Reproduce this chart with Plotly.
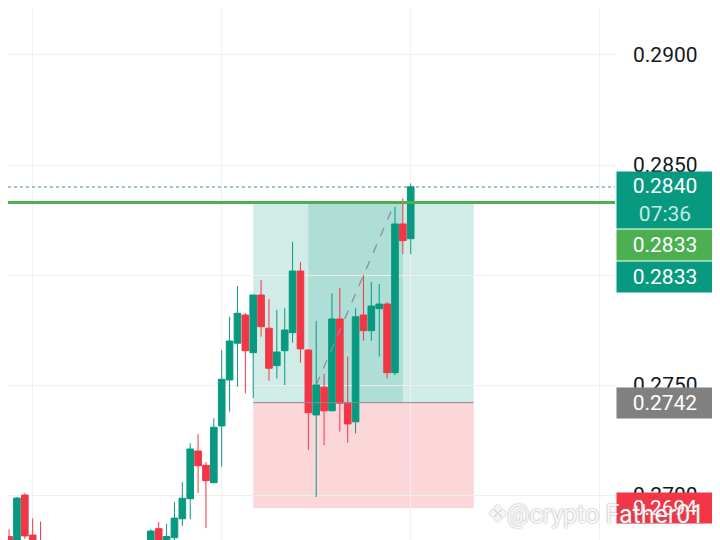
import plotly.graph_objects as go

# candle data (oldest -> newest)
bar_index = list(range(53))
opens = [0.26947, 0.26811, 0.26760, 0.27000, 0.26818, 0.26770,
         0.26720, 0.26670, 0.26700, 0.26640, 0.26590, 0.26620, 0.26660,
         0.26630, 0.26700, 0.26680, 0.26730, 0.26700, 0.26740,
         0.26750, 0.26847, 0.26775, 0.26806, 0.26892, 0.26983, 0.27200,
         0.27135, 0.27056, 0.27314, 0.27523, 0.27690, 0.27818, 0.27647,
         0.27909, 0.27758, 0.27588, 0.27656, 0.27738, 0.28018, 0.27659,
         0.27364, 0.27490, 0.27383, 0.27800, 0.27417, 0.27333, 0.27818,
         0.27747, 0.27847, 0.27868, 0.27556, 0.28232, 0.28165]
highs = [0.27060, 0.26844, 0.26990, 0.27008, 0.26894, 0.26879,
         0.26770, 0.26720, 0.26740, 0.26680, 0.26650, 0.26690, 0.26700,
         0.26720, 0.26750, 0.26740, 0.26770, 0.26760, 0.26780,
         0.26844, 0.26877, 0.26868, 0.26968, 0.27059, 0.27235, 0.27277,
         0.27150, 0.27349, 0.27659, 0.27810, 0.27950, 0.27826, 0.27909,
         0.27977, 0.27890, 0.27841, 0.27849, 0.28151, 0.28059, 0.27662,
         0.27791, 0.27550, 0.27917, 0.27942, 0.27629, 0.27849, 0.28000,
         0.27968, 0.27959, 0.27877, 0.28310, 0.28349, 0.28416]
lows = [0.26710, 0.26740, 0.26720, 0.26800, 0.26700, 0.26660,
        0.26640, 0.26600, 0.26620, 0.26560, 0.26540, 0.26580, 0.26600,
        0.26610, 0.26650, 0.26630, 0.26680, 0.26660, 0.26690,
        0.26720, 0.26730, 0.26740, 0.26780, 0.26859, 0.26890, 0.27010,
        0.26849, 0.27053, 0.27129, 0.27379, 0.27492, 0.27462, 0.27440,
        0.27720, 0.27520, 0.27530, 0.27500, 0.27692, 0.27601, 0.27205,
        0.26991, 0.27227, 0.27380, 0.27288, 0.27238, 0.27280, 0.27701,
        0.27701, 0.27629, 0.27530, 0.27545, 0.28095, 0.28095]
closes = [0.26760, 0.26780, 0.26986, 0.26814, 0.26760, 0.26720,
          0.26670, 0.26700, 0.26640, 0.26590, 0.26620, 0.26660, 0.26630,
          0.26700, 0.26680, 0.26730, 0.26700, 0.26740, 0.26750,
          0.26836, 0.26770, 0.26811, 0.26895, 0.26985, 0.27209, 0.27133,
          0.27065, 0.27308, 0.27526, 0.27700, 0.27826, 0.27656, 0.27909,
          0.27765, 0.27576, 0.27650, 0.27750, 0.28018, 0.27664, 0.27374,
          0.27500, 0.27383, 0.27800, 0.27417, 0.27323, 0.27810, 0.27747,
          0.27859, 0.27868, 0.27556, 0.28232, 0.28156, 0.28401]

# long position tool + drawings
entry_price = 0.2742
target_price = 0.2833
stop_price = 0.2694
hline_price = 0.2833
last_price = 0.2840
countdown = "07:36"
pos_start, pos_end = 32, 60
fill_start, fill_end = 39, 51
path_x = [40, 50]
path_y = [0.2750, 0.2833]

green = "#089981"
red = "#f23645"

fig = go.Figure()
fig.add_trace(go.Candlestick(
    x=bar_index, open=opens, high=highs, low=lows, close=closes,
    increasing=dict(line=dict(color=green, width=1), fillcolor=green),
    decreasing=dict(line=dict(color=red, width=1), fillcolor=red),
    whiskerwidth=0, showlegend=False, hoverinfo="skip"))

fig.add_trace(go.Scatter(x=path_x, y=path_y, mode="lines",
                         line=dict(color="#8a8f99", width=1.3, dash="dash"),
                         showlegend=False, hoverinfo="skip"))

# zones
fig.add_shape(type="rect", x0=pos_start, x1=pos_end, y0=entry_price, y1=target_price,
              fillcolor="rgba(8,153,129,0.19)", line_width=0, layer="below")
fig.add_shape(type="rect", x0=fill_start, x1=fill_end, y0=entry_price, y1=target_price,
              fillcolor="rgba(8,153,129,0.17)", line_width=0, layer="below")
fig.add_shape(type="rect", x0=pos_start, x1=pos_end, y0=stop_price, y1=entry_price,
              fillcolor="rgba(242,54,69,0.2)", line_width=0, layer="below")
fig.add_shape(type="line", x0=pos_start, x1=pos_end, y0=entry_price, y1=entry_price,
              line=dict(color="#8c8c8c", width=1))
fig.add_shape(type="line", xref="paper", x0=0, x1=1, y0=last_price, y1=last_price,
              line=dict(color="#3d8f86", width=1, dash="dot"))
fig.add_shape(type="line", xref="paper", x0=0, x1=1, y0=hline_price, y1=hline_price,
              line=dict(color="#4caf50", width=3))

# price scale labels
def tag(y, text, bg, shift, h=24):
    fig.add_annotation(xref="paper", yref="y", x=1, y=y, xanchor="left", yanchor="middle",
                       xshift=1, yshift=shift, text=text, showarrow=False,
                       bgcolor=bg, width=90, height=h, borderpad=3, align="center",
                       font=dict(family="Roboto", size=21, color="white"))

tag(last_price, f"{last_price:.4f}<br><span style='color:#c4ebe2'>{countdown}</span>",
    green, -13, h=50)
tag(hline_price, f"{hline_price:.4f}", "#4caf50", -43)
tag(target_price, f"{target_price:.4f}", green, -75)
tag(entry_price, f"{entry_price:.4f}", "#808080", 0)
tag(stop_price, f"{stop_price:.4f}", red, 0)

# watermark
fig.add_annotation(xref="paper", yref="paper", x=1.0, y=0.048, xanchor="left", yanchor="middle",
                   xshift=-130, text="❖", showarrow=False,
                   font=dict(family="DejaVu Sans", size=24, color="rgba(255,255,255,0.9)",
                             shadow="0px 0px 2px #9a9a9a"))
fig.add_annotation(xref="paper", yref="paper", x=1.0, y=0.048, xanchor="left", yanchor="middle",
                   xshift=-110, text="@crypto Father01", showarrow=False,
                   font=dict(family="Roboto", size=25, color="rgba(255,255,255,0.92)",
                             shadow="0px 0px 2px #8a8a8a"))

# page body keeps an 8px margin, so the figure is 8px smaller than the window
fig.update_layout(
    width=712, height=532,
    margin=dict(l=0, r=105, t=0, b=0),
    paper_bgcolor="white", plot_bgcolor="white",
    boxgap=0.16, boxgroupgap=0,
    xaxis=dict(range=[0.863, 77.94], rangeslider=dict(visible=False),
               showticklabels=False, tick0=3.91, dtick=24,
               showgrid=True, gridcolor="#efefef", zeroline=False, showline=False),
    yaxis=dict(side="right", range=[0.267955, 0.292136], tick0=0.27, dtick=0.005,
               tickformat=".4f", showgrid=True, gridcolor="#efefef", zeroline=False,
               ticks="", ticklabelstandoff=17,
               tickfont=dict(family="Roboto", size=21, color="#131722")),
)

fig.write_html("out.html")
